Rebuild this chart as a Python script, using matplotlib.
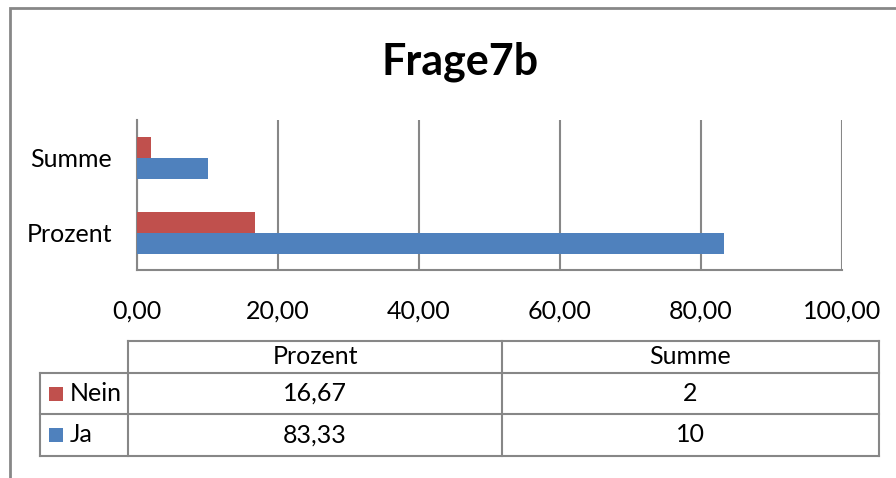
import matplotlib.pyplot as plt
from matplotlib.patches import Rectangle

# data
categories = ["Prozent", "Summe"]
series_names = ["Ja", "Nein"]
ja_values = [83.33, 10]
nein_values = [16.67, 2]
x_ticks = [0, 20, 40, 60, 80, 100]
title = "Frage7b"

BLUE = "#4F81BD"
RED = "#C0504D"
GRID = "#878787"
FONT = "Lato"
FS = 18

W, H = 896, 478


def fx(px):
    return px / W


def fy(py):
    return 1 - py / H


def de(v, decimals=2):
    return f"{v:.{decimals}f}".replace(".", ",")


fig = plt.figure(figsize=(W / 100, H / 100), dpi=100)
plt.rcParams['font.family'] = [FONT, 'DejaVu Sans']

# outer chart border (runs off right/bottom edge like the screenshot)
fig.add_artist(Rectangle((fx(10), fy(900)), 2, fy(8) - fy(900),
                         transform=fig.transFigure, fill=False,
                         edgecolor=GRID, linewidth=2))

fig.text(fx(460), fy(62), title, ha="center", va="center",
         fontsize=31, fontweight="bold", color="black")

# plot area
ax = fig.add_axes([fx(137), fy(270), fx(842) - fx(137), fy(120) - fy(270)])
pos = list(range(len(categories)))
h = 0.28
ax.barh([p - h / 2 for p in pos], ja_values, height=h, color=BLUE, zorder=3)
ax.barh([p + h / 2 for p in pos], nein_values, height=h, color=RED, zorder=3)
ax.set_xlim(0, 100)
ax.set_ylim(-0.5, len(categories) - 0.5)
ax.set_xticks(x_ticks)
ax.set_xticklabels([de(t) for t in x_ticks], fontsize=FS)
ax.set_yticks(pos)
ax.set_yticklabels(categories, fontsize=FS)
ax.tick_params(axis="x", length=0, pad=21)
ax.tick_params(axis="y", length=0, pad=18)
ax.grid(axis="x", color=GRID, linewidth=1.5, zorder=0)
for s in ["top", "right"]:
    ax.spines[s].set_visible(False)
for s in ["left", "bottom"]:
    ax.spines[s].set_color(GRID)
    ax.spines[s].set_linewidth(1.5)

# data table below the chart
col_x = [40, 128, 502, 879]
row_y = [341, 373, 414, 456]
lw = 1.5


def hline(y, x0, x1):
    fig.add_artist(plt.Line2D([fx(x0), fx(x1)], [fy(y), fy(y)], color=GRID,
                              linewidth=lw, transform=fig.transFigure))


def vline(x, y0, y1):
    fig.add_artist(plt.Line2D([fx(x), fx(x)], [fy(y0), fy(y1)], color=GRID,
                              linewidth=lw, transform=fig.transFigure))


hline(row_y[0], col_x[1], col_x[3])
for y in row_y[1:]:
    hline(y, col_x[0], col_x[3])
vline(col_x[0], row_y[1], row_y[3])
for x in col_x[1:]:
    vline(x, row_y[0], row_y[3])

# header
for i, cat in enumerate(categories):
    cx = (col_x[i + 1] + col_x[i + 2]) / 2
    fig.text(fx(cx), fy((row_y[0] + row_y[1]) / 2), cat, ha="center",
             va="center", fontsize=FS)

# rows: Nein first, then Ja
rows = [("Nein", RED, nein_values, [2, 0]), ("Ja", BLUE, ja_values, [2, 0])]
for r, (name, color, vals, decs) in enumerate(rows):
    cy = (row_y[r + 1] + row_y[r + 2]) / 2
    fig.add_artist(Rectangle((fx(49), fy(cy + 7)), fx(63) - fx(49),
                             fy(cy - 7) - fy(cy + 7), transform=fig.transFigure,
                             facecolor=color, edgecolor="none"))
    fig.text(fx(70), fy(cy), name, ha="left", va="center", fontsize=FS)
    for i, v in enumerate(vals):
        cx = (col_x[i + 1] + col_x[i + 2]) / 2
        fig.text(fx(cx), fy(cy), de(v, decs[i]), ha="center", va="center",
                 fontsize=FS)

fig.savefig("out.png", dpi=100)
plt.close(fig)
